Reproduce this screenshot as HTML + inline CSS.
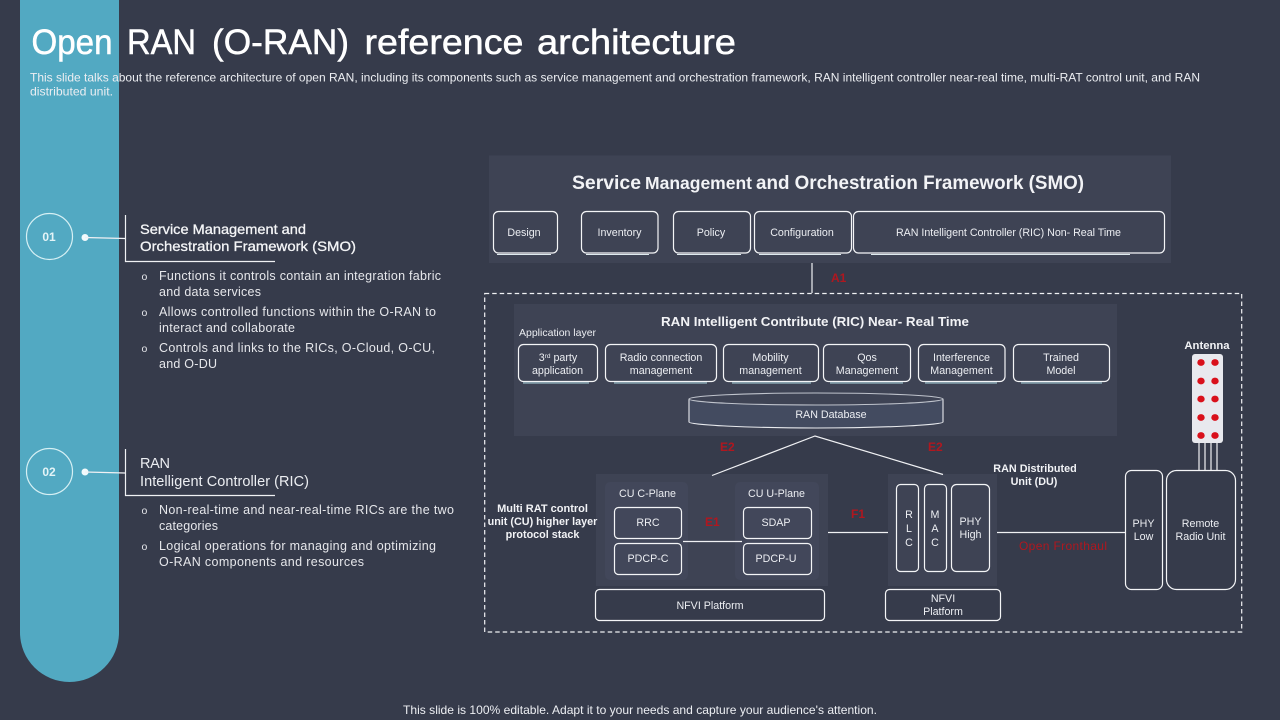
<!DOCTYPE html>
<html><head><meta charset="utf-8"><style>
html,body{margin:0;padding:0;background:#363b4b;width:1280px;height:720px;overflow:hidden}
svg{display:block}
text{font-family:"Liberation Sans",sans-serif;fill:#eceef2}
.b{fill:none;stroke:#f4f5f7;stroke-width:1.2}
.l{stroke:#f0f1f4;stroke-width:1.2;fill:none}
.t{font-size:10.7px;text-anchor:middle}
.h{font-weight:bold;fill:#f2f3f6}
.r{fill:#b0171f;font-weight:bold;font-size:12px}
.p{font-size:12.5px;fill:#e6e7eb}
.o{font-size:10.5px;fill:#e6e7eb}
.u{stroke:#dfeaee;stroke-width:1}
.d{fill:#f4f5f7;stroke:#f4f5f7;stroke-width:.3}
.ti{font-size:35px;fill:#fff;stroke:#fff;stroke-width:.5}
</style></head><body>
<svg width="1280" height="720" viewBox="0 0 1280 720" xmlns="http://www.w3.org/2000/svg">
<rect width="1280" height="720" fill="#363b4b"/>
<path d="M20 0H119V632.5A49.5 49.5 0 0 1 20 632.5Z" fill="#52a9c2"/>

<text class="ti" x="31.5" y="54" textLength="81" lengthAdjust="spacingAndGlyphs">Open</text>
<text class="ti" x="127" y="54" textLength="69" lengthAdjust="spacingAndGlyphs">RAN</text>
<text class="ti" x="212" y="54" textLength="137" lengthAdjust="spacingAndGlyphs">(O-RAN)</text>
<text class="ti" x="364.5" y="54" textLength="159" lengthAdjust="spacingAndGlyphs">reference</text>
<text class="ti" x="537" y="54" textLength="199" lengthAdjust="spacingAndGlyphs">architecture</text>
<text x="30" y="81.5" font-size="12" textLength="1170" lengthAdjust="spacingAndGlyphs">This slide talks about the reference architecture of open RAN, including its components such as service management and orchestration framework, RAN intelligent controller near-real time, multi-RAT control unit, and RAN</text>
<text x="30" y="95.5" font-size="12" textLength="83" lengthAdjust="spacingAndGlyphs">distributed unit.</text>
<text x="403" y="714" font-size="12" textLength="474" lengthAdjust="spacingAndGlyphs">This slide is 100% editable. Adapt it to your needs and capture your audience's attention.</text>

<!-- left 01 -->
<circle cx="49.5" cy="236.5" r="23" fill="none" stroke="#d6f0f4" stroke-width="1.2"/>
<text x="49" y="241" font-size="12" text-anchor="middle" style="fill:#e4f4f7;font-weight:bold">01</text>
<circle cx="85" cy="237.5" r="3.5" fill="#f2fafc"/>
<path class="l" d="M85 237.5L125 238.5M125.5 215V261.5H275"/>
<text class="d" x="140" y="234" font-size="14" textLength="166" lengthAdjust="spacingAndGlyphs">Service Management and</text>
<text class="d" x="140" y="251" font-size="14" textLength="216" lengthAdjust="spacingAndGlyphs">Orchestration Framework (SMO)</text>
<text class="o" x="141.5" y="280">o</text>
<text class="p" x="159" y="280" textLength="282">Functions it controls contain an integration fabric</text>
<text class="p" x="159" y="296" textLength="102">and data services</text>
<text class="o" x="141.5" y="316">o</text>
<text class="p" x="159" y="316" textLength="277">Allows controlled functions within the O-RAN to</text>
<text class="p" x="159" y="332" textLength="136">interact and collaborate</text>
<text class="o" x="141.5" y="352">o</text>
<text class="p" x="159" y="352" textLength="276">Controls and links to the RICs, O-Cloud, O-CU,</text>
<text class="p" x="159" y="368" textLength="58">and O-DU</text>

<!-- left 02 -->
<circle cx="49.5" cy="471.5" r="23" fill="none" stroke="#d6f0f4" stroke-width="1.2"/>
<text x="49" y="476" font-size="12" text-anchor="middle" style="fill:#e4f4f7;font-weight:bold">02</text>
<circle cx="85" cy="472" r="3.5" fill="#f2fafc"/>
<path class="l" d="M85 472L125 473M125.5 449V495.5H275"/>
<text x="140" y="468" font-size="14.5" textLength="30">RAN</text>
<text x="140" y="486" font-size="14.5" textLength="169">Intelligent Controller (RIC)</text>
<text class="o" x="141.5" y="514">o</text>
<text class="p" x="159" y="514" textLength="295">Non-real-time and near-real-time RICs are the two</text>
<text class="p" x="159" y="530" textLength="59">categories</text>
<text class="o" x="141.5" y="550">o</text>
<text class="p" x="159" y="550" textLength="277">Logical operations for managing and optimizing</text>
<text class="p" x="159" y="566" textLength="205">O-RAN components and resources</text>

<!-- SMO -->
<rect x="489" y="155.5" width="682" height="107.5" fill="#3e4354"/>
<text class="h" x="572" y="189" font-size="19.4" textLength="69" lengthAdjust="spacingAndGlyphs">Service</text>
<text class="h" x="645" y="189" font-size="17.5" textLength="107" lengthAdjust="spacingAndGlyphs">Management</text>
<text class="h" x="756" y="189" font-size="19.4" textLength="328" lengthAdjust="spacingAndGlyphs">and Orchestration Framework (SMO)</text>
<rect class="b" x="493.5" y="211.5" width="64" height="41.5" rx="5"/>
<rect class="b" x="581.5" y="211.5" width="76.5" height="41.5" rx="5"/>
<rect class="b" x="673.5" y="211.5" width="77" height="41.5" rx="5"/>
<rect class="b" x="754.5" y="211.5" width="97" height="41.5" rx="5"/>
<rect class="b" x="853.5" y="211.5" width="311" height="41.5" rx="5"/>
<path class="u" d="M497 254.5H551M586 254.5H649M677 254.5H741M759 254.5H841M871 254.5H1130"/>
<text class="t" x="524" y="236">Design</text>
<text class="t" x="619.5" y="236">Inventory</text>
<text class="t" x="711" y="236">Policy</text>
<text class="t" x="802" y="236">Configuration</text>
<text class="t" x="1008.5" y="236" textLength="225">RAN Intelligent Controller (RIC) Non- Real Time</text>

<path class="l" d="M812 263V293"/>
<text class="r" x="831" y="282">A1</text>

<rect x="484.7" y="293.5" width="757" height="338.5" fill="none" stroke="#f0f1f4" stroke-width="1.2" stroke-dasharray="4.5 3"/>

<!-- RIC -->
<rect x="514" y="304" width="603" height="132" fill="#3e4354"/>
<text class="h" x="661" y="326" font-size="13.3" textLength="308" lengthAdjust="spacingAndGlyphs">RAN Intelligent Contribute (RIC) Near- Real Time</text>
<text x="519" y="336" font-size="10.5">Application layer</text>
<rect class="b" x="518.5" y="344.5" width="79" height="37" rx="5"/>
<rect class="b" x="605.5" y="344.5" width="111" height="37" rx="5"/>
<rect class="b" x="723.5" y="344.5" width="95" height="37" rx="5"/>
<rect class="b" x="823.5" y="344.5" width="87" height="37" rx="5"/>
<rect class="b" x="918.5" y="344.5" width="86.5" height="37" rx="5"/>
<rect class="b" x="1013.5" y="344.5" width="96" height="37" rx="5"/>
<path d="M523 383H589M614 383H707M732 383H811M830 383H903M925 383H997M1021 383H1102" stroke="#a9d5de" stroke-width="1"/>
<text class="t" x="558" y="361">3<tspan font-size="6.5" dy="-3">rd</tspan><tspan dy="3"> party</tspan></text>
<text class="t" x="557.5" y="374">application</text>
<text class="t" x="661" y="361">Radio connection</text>
<text class="t" x="661" y="374">management</text>
<text class="t" x="770.5" y="361">Mobility</text>
<text class="t" x="770.5" y="374">management</text>
<text class="t" x="867" y="361">Qos</text>
<text class="t" x="867" y="374">Management</text>
<text class="t" x="961.5" y="361">Interference</text>
<text class="t" x="961.5" y="374">Management</text>
<text class="t" x="1061" y="361">Trained</text>
<text class="t" x="1061" y="374">Model</text>

<path d="M689 399V422C689 425 750 428 816 428S943 425 943 422V399" fill="#434b60" stroke="#e8eaee" stroke-width="1.1"/>
<ellipse cx="816" cy="399" rx="127" ry="6" fill="#3e4354" stroke="#bfc3cc" stroke-width="1.1"/>
<text class="t" x="831" y="418">RAN Database</text>

<text class="r" x="720" y="451">E2</text>
<text class="r" x="928" y="451">E2</text>

<!-- CU -->
<rect x="596" y="474" width="232" height="112" fill="#3e4354"/>
<rect x="605" y="482" width="83" height="98" rx="5" fill="#42475a"/>
<rect x="735" y="482" width="84" height="98" rx="5" fill="#42475a"/>
<text class="t" x="647.5" y="497">CU C-Plane</text>
<text class="t" x="776.5" y="497">CU U-Plane</text>
<rect class="b" x="614.5" y="507.5" width="67" height="31" rx="4"/>
<rect class="b" x="614.5" y="543.5" width="67" height="31" rx="4"/>
<rect class="b" x="743.5" y="507.5" width="68" height="31" rx="4"/>
<rect class="b" x="743.5" y="543.5" width="68" height="31" rx="4"/>
<text class="t" x="648" y="526">RRC</text>
<text class="t" x="648" y="562">PDCP-C</text>
<text class="t" x="776" y="526">SDAP</text>
<text class="t" x="776" y="562">PDCP-U</text>
<path class="l" d="M683 541.5H742"/>
<text class="r" x="705" y="526">E1</text>
<rect class="b" x="595.5" y="589.5" width="229" height="31" rx="4"/>
<text class="t" x="710" y="609">NFVI Platform</text>
<text class="h" x="542.5" y="512" font-size="11" text-anchor="middle">Multi RAT control</text>
<text class="h" x="542.5" y="525" font-size="10.8" text-anchor="middle">unit (CU) higher layer</text>
<text class="h" x="542.5" y="538" font-size="10.8" text-anchor="middle">protocol stack</text>

<path class="l" d="M828 532.5H888"/>
<text class="r" x="851" y="518">F1</text>

<!-- DU -->
<rect x="888" y="474" width="109" height="112" fill="#3e4354"/>
<rect class="b" x="896.5" y="484.5" width="22" height="87" rx="4"/>
<rect class="b" x="924.5" y="484.5" width="22" height="87" rx="4"/>
<rect class="b" x="951.5" y="484.5" width="38" height="87" rx="5"/>
<text class="t" x="909" y="518">R</text><text class="t" x="909" y="532">L</text><text class="t" x="909" y="546">C</text>
<text class="t" x="935" y="518">M</text><text class="t" x="935" y="532">A</text><text class="t" x="935" y="546">C</text>
<text class="t" x="970.5" y="525">PHY</text>
<text class="t" x="970.5" y="538">High</text>
<rect class="b" x="885.5" y="589.5" width="115" height="31" rx="4"/>
<text class="t" x="943" y="602">NFVI</text>
<text class="t" x="943" y="615">Platform</text>
<text class="h" x="1035" y="472" font-size="10.8" text-anchor="middle">RAN Distributed</text>
<text class="h" x="1034" y="485" font-size="10.8" text-anchor="middle">Unit (DU)</text>

<path class="l" d="M712 475.5L815 436L943 474.5"/>

<path class="l" d="M997 532.5H1125"/>
<text x="1019" y="550" font-size="12" textLength="88" style="fill:#b0171f">Open Fronthaul</text>

<rect class="b" x="1125.5" y="470.5" width="37" height="119" rx="6"/>
<rect class="b" x="1166.5" y="470.5" width="69" height="119" rx="10"/>
<text class="t" x="1143.5" y="527">PHY</text>
<text class="t" x="1143.5" y="540">Low</text>
<text class="t" x="1200.5" y="527">Remote</text>
<text class="t" x="1200.5" y="540">Radio Unit</text>

<!-- antenna -->
<text class="h" x="1207" y="349" font-size="11.3" text-anchor="middle">Antenna</text>
<path class="l" d="M1199 443V470M1205 443V470M1211 443V470M1217 443V470"/>
<rect x="1192" y="354" width="31" height="89" rx="3" fill="#e8e9ee"/>
<g fill="#d9101b">
<ellipse cx="1201" cy="362.5" rx="3.7" ry="3.4"/><ellipse cx="1215" cy="362.5" rx="3.7" ry="3.4"/>
<ellipse cx="1201" cy="381" rx="3.7" ry="3.4"/><ellipse cx="1215" cy="381" rx="3.7" ry="3.4"/>
<ellipse cx="1201" cy="399" rx="3.7" ry="3.4"/><ellipse cx="1215" cy="399" rx="3.7" ry="3.4"/>
<ellipse cx="1201" cy="417.5" rx="3.7" ry="3.4"/><ellipse cx="1215" cy="417.5" rx="3.7" ry="3.4"/>
<ellipse cx="1201" cy="435.5" rx="3.7" ry="3.4"/><ellipse cx="1215" cy="435.5" rx="3.7" ry="3.4"/>
</g>
</svg>
</body></html>
